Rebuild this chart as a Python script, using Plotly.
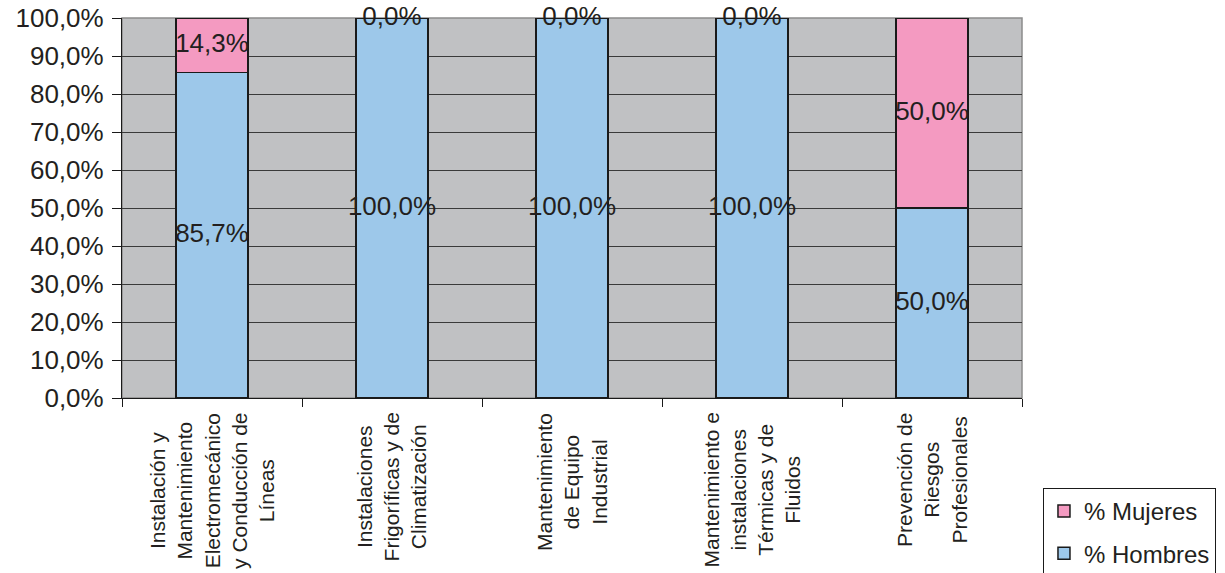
import plotly.graph_objects as go

categories = [
    "Instalación y<br>Mantenimiento<br>Electromecánico<br>y Conducción de<br>Líneas",
    "Instalaciones<br>Frigoríficas y de<br>Climatización",
    "Mantenimiento<br>de Equipo<br>Industrial",
    "Mantenimiento e<br>instalaciones<br>Térmicas y de<br>Fluidos",
    "Prevención de<br>Riesgos<br>Profesionales",
]
hombres = [0.857, 1.0, 1.0, 1.0, 0.5]
mujeres = [0.143, 0.0, 0.0, 0.0, 0.5]
tick_vals = [0, 0.1, 0.2, 0.3, 0.4, 0.5, 0.6, 0.7, 0.8, 0.9, 1.0]

FONT = "Liberation Sans, Arial, sans-serif"
TXT = "#231F20"
BLUE = "#9DC8EA"
PINK = "#F49AC1"


def fmt(v):
    return f"{v * 100:.1f}%".replace(".", ",")


fig = go.Figure()
fig.add_trace(go.Bar(
    x=categories, y=hombres, name="% Hombres", legendgroup="h", legendrank=2,
    marker=dict(color=BLUE, line=dict(color="#1a1a1a", width=1.5)),
    width=0.4, hoverinfo="skip",
))
fig.add_trace(go.Bar(
    x=categories, y=mujeres, name="% Mujeres", legendgroup="m", legendrank=1,
    marker=dict(color=PINK, line=dict(color="#1a1a1a", width=1.5)),
    width=0.4, hoverinfo="skip",
))

# data labels
fig.add_trace(go.Scatter(
    x=categories, y=[h / 2 for h in hombres], mode="text",
    text=[fmt(h) for h in hombres], textfont=dict(size=26, color=TXT, family=FONT),
    showlegend=False, cliponaxis=False, hoverinfo="skip",
))
fig.add_trace(go.Scatter(
    x=categories, y=[h + m / 2 for h, m in zip(hombres, mujeres)], mode="text",
    text=[fmt(m) for m in mujeres], textfont=dict(size=26, color=TXT, family=FONT),
    showlegend=False, cliponaxis=False, hoverinfo="skip",
))

# category labels (rotated, centred lines)
for c in categories:
    fig.add_annotation(
        x=c, xref="x", y=-0.034, yref="paper",
        text=c, textangle=-90, showarrow=False,
        xanchor="center", yanchor="top", align="center",
        font=dict(size=21, color=TXT, family=FONT),
    )

fig.add_shape(type="rect", xref="paper", yref="paper", x0=0, x1=1, y0=0, y1=1,
              line=dict(color="#8c8c8c", width=1.5), layer="below")

fig.update_layout(
    barmode="stack",
    width=1225, height=573,
    margin=dict(l=122, r=203, t=18, b=175, autoexpand=False),
    paper_bgcolor="white",
    plot_bgcolor="#C0C1C3",
    separators=",.",
    font=dict(family=FONT, color=TXT),
    legend=dict(
        x=1.0233, y=-0.2368, xanchor="left", yanchor="top",
        xref="paper", yref="paper",
        bordercolor="#1a1a1a", borderwidth=1, bgcolor="white",
        font=dict(size=24, color=TXT, family=FONT),
        traceorder="grouped", tracegroupgap=8,
    ),
    xaxis=dict(
        type="category", tickson="boundaries", ticks="outside", ticklen=8,
        tickcolor="#1a1a1a", showticklabels=False, showgrid=False,
        showline=True, linecolor="#1a1a1a", linewidth=1.2,
        range=[-0.5, 4.5],
    ),
    yaxis=dict(
        range=[0, 1], tickvals=tick_vals, tickformat=".1%",
        ticks="outside", ticklen=9, tickcolor="#1a1a1a",
        tickfont=dict(size=26, color=TXT, family=FONT),
        ticklabelstandoff=3, ticklabeloverflow="allow",
        showgrid=True, gridcolor="#3a3a3a", gridwidth=1,
        showline=True, linecolor="#1a1a1a", linewidth=1.2,
        zeroline=False,
    ),
)

fig.write_html("out.html", config={"displayModeBar": False},
               post_script="document.body.style.margin='0';")
